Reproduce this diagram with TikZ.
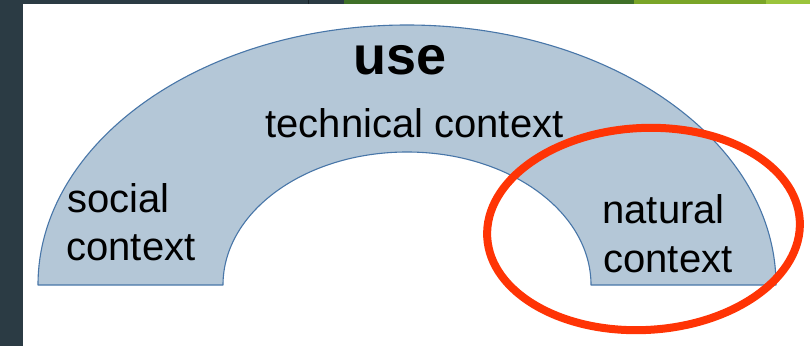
\documentclass[tikz,border=0pt]{standalone}
\usepackage{fontspec}
\setmainfont{Liberation Sans}
\definecolor{slate}{RGB}{43,59,68}
\definecolor{slateline}{RGB}{25,35,40}
\definecolor{gdark}{RGB}{63,112,40}
\definecolor{gmid}{RGB}{122,165,40}
\definecolor{glight}{RGB}{155,196,60}
\definecolor{bandfill}{RGB}{180,199,215}
\definecolor{bandline}{RGB}{72,118,168}
\definecolor{ringred}{RGB}{255,52,5}
\tikzset{
  band/.style={fill=bandfill, draw=bandline, line width=1.1pt, line join=round},
  lbl/.style={inner sep=0pt, outer sep=0pt, text=black, font=\fontsize{40}{48}\selectfont},
  ringstyle/.style={draw=ringred, line width=8pt}
}
\begin{document}
\begin{tikzpicture}[x=1pt,y=1pt]
\useasboundingbox (0,0) rectangle (810,346);
\fill[white] (0,0) rectangle (810,346);
% frame strips
\fill[slate] (0,0) rectangle (23,346);
\fill[slate] (0,342) rectangle (810,346);
\fill[slateline] (307.5,342) rectangle (309,346);
\fill[gdark] (344,342) rectangle (634,346);
\fill[gmid] (634,342) rectangle (766,346);
\fill[glight] (766,342) rectangle (810,346);
% half ring
\draw[band] (38,61) arc[start angle=180, end angle=0, x radius=369, y radius=260]
  -- (591,61) arc[start angle=0, end angle=180, x radius=184, y radius=133] -- cycle;
% labels
\node[lbl, anchor=base, font=\fontsize{54}{60}\selectfont\bfseries] (use) at (400,271) {use};
\node[lbl, anchor=base] (tech) at (414.5,209) {technical context};
\node[lbl, anchor=base west] (socA) at (67,134) {social};
\node[lbl, anchor=base west] (socB) at (66.5,86) {context};
\node[lbl, anchor=base west] (natA) at (602.5,123) {natural};
\node[lbl, anchor=base west] (natB) at (603.5,74) {context};
% red ring
\draw[ringstyle, rotate around={3:(643.5,117)}] (643.5,117) ellipse[x radius=156.5, y radius=101];
\end{tikzpicture}
\end{document}
